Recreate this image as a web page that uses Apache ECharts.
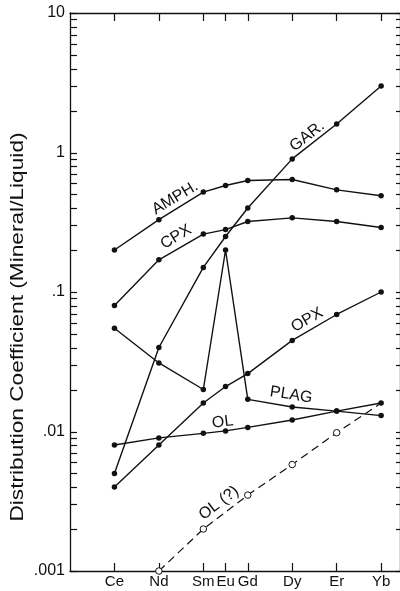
<!DOCTYPE html>
<html>
<head>
<meta charset="utf-8">
<script src="https://cdn.jsdelivr.net/npm/echarts@6/dist/echarts.min.js"></script>
<style>
  html, body { margin: 0; padding: 0; background: #fff; }
  #chart { width: 400px; height: 591px; }
</style>
</head>
<body>
<div id="chart"></div>
<script>
// REE elements, placed along x by atomic number
const elements = ['Ce', 'Nd', 'Sm', 'Eu', 'Gd', 'Dy', 'Er', 'Yb'];
const atomicNumbers = [58, 60, 62, 63, 64, 66, 68, 70];

// Mineral/liquid distribution coefficients
const amph = [0.2, 0.33, 0.52, 0.58, 0.63, 0.64, 0.54, 0.49];
const cpx = [0.08, 0.17, 0.26, 0.28, 0.32, 0.34, 0.32, 0.29];
const gar = [0.005, 0.04, 0.15, 0.25, 0.4, 0.9, 1.6, 3.0];
const opx = [0.004, 0.008, 0.016, 0.021, 0.026, 0.045, 0.069, 0.1];
const plag = [0.055, 0.031, 0.02, 0.2, 0.017, 0.015, 0.014, 0.013];
const ol = [0.008, 0.009, 0.0097, 0.0101, 0.0107, 0.0121, 0.014, 0.016];
const olQ = [null, 0.001, 0.002, null, 0.0035, 0.0058, 0.0098, 0.016];

// Y tick labels
const yTickValues = [10, 1, 0.1, 0.01, 0.001];
const yTickLabels = ['10', '1', '.1', '.01', '.001'];

// Log-cycle tick marks: 1..9 within every decade
const yTickMarks = [];
for (let e = -3; e <= 0; e++) {
  for (let k = 1; k <= 9; k++) yTickMarks.push(+(k * Math.pow(10, e)).toPrecision(3));
}
yTickMarks.push(10);

const X_MIN = 56;
const X_MAX = 70.85;

const FONT = '"Liberation Sans", Arial, Helvetica, sans-serif';
const INK = '#111';

function pairs(vals) {
  return vals.map((v, i) => [atomicNumbers[i], v]);
}

// in-line curve names (anchor in data space + text angle)
const curveLabels = {
  'AMPH.': { at: [60.73, 0.472], rotate: 31 },
  'CPX': { at: [60.77, 0.248], rotate: 31 },
  'GAR.': { at: [66.67, 1.31], rotate: 38 },
  'OPX': { at: [66.67, 0.063], rotate: 30 },
  'PLAG': { at: [65.95, 0.0183], rotate: -9 },
  'OL': { at: [62.87, 0.0117], rotate: 7 },
  'OL (?)': { at: [62.7, 0.00307], rotate: 37 }
};

function nameMark(name) {
  const c = curveLabels[name];
  return {
    symbol: 'circle',
    symbolSize: 0,
    silent: true,
    animation: false,
    data: [{
      coord: c.at,
      label: {
        show: true,
        position: 'inside',
        formatter: name,
        rotate: c.rotate,
        fontFamily: FONT,
        fontSize: 16,
        color: INK
      }
    }]
  };
}

function solidSeries(name, vals) {
  return {
    name: name,
    type: 'line',
    data: pairs(vals),
    symbol: 'circle',
    symbolSize: 5.5,
    showSymbol: true,
    lineStyle: { color: INK, width: 1.4 },
    itemStyle: { color: INK, borderWidth: 0 },
    markPoint: nameMark(name),
    animation: false,
    z: 3
  };
}

const olQData = pairs(olQ).map((p, i) => {
  if (p[1] === null) return [p[0], null];
  if (i === olQ.length - 1) return { value: p, symbol: 'none' };
  return p;
});

const series = [
  solidSeries('AMPH.', amph),
  solidSeries('CPX', cpx),
  solidSeries('GAR.', gar),
  solidSeries('OPX', opx),
  solidSeries('PLAG', plag),
  solidSeries('OL', ol),
  {
    name: 'OL (?)',
    type: 'line',
    data: olQData,
    connectNulls: true,
    symbol: 'circle',
    symbolSize: 6.5,
    lineStyle: { color: INK, width: 1.2, type: [8, 5] },
    itemStyle: { color: '#fff', borderColor: INK, borderWidth: 1 },
    markPoint: nameMark('OL (?)'),
    animation: false,
    z: 2
  }
];

const chart = echarts.init(document.getElementById('chart'), null, { renderer: 'canvas' });

const xCommon = {
  type: 'value',
  min: X_MIN,
  max: X_MAX,
  splitLine: { show: false },
  axisLine: { show: true, onZero: false, lineStyle: { color: INK, width: 1.3 } },
  axisTick: { show: true, inside: true, length: 8, customValues: atomicNumbers, lineStyle: { color: INK, width: 1.2 } }
};

const yLog = {
  type: 'log',
  logBase: 10,
  min: 0.001,
  max: 10,
  splitLine: { show: false },
  axisTick: { show: false },
  axisLine: { show: true, onZero: false, lineStyle: { color: INK, width: 1.3 } }
};

chart.setOption({
  animation: false,
  backgroundColor: '#fff',
  grid: { left: 70, right: 0, top: 13, bottom: 20, containLabel: false },
  xAxis: [
    Object.assign({}, xCommon, {
      position: 'bottom',
      axisLabel: {
        show: true,
        customValues: atomicNumbers,
        formatter: v => elements[atomicNumbers.indexOf(Math.round(v))] || '',
        fontFamily: FONT,
        fontSize: 15,
        color: INK,
        margin: 3
      }
    }),
    Object.assign({}, xCommon, {
      position: 'top',
      axisLabel: { show: false }
    })
  ],
  yAxis: [
    Object.assign({}, yLog, {
      position: 'left',
      axisLabel: {
        show: true,
        formatter: v => {
          const i = yTickValues.findIndex(t => Math.abs(Math.log10(t) - Math.log10(v)) < 1e-6);
          return i >= 0 ? yTickLabels[i] : '';
        },
        fontFamily: FONT,
        fontSize: 16,
        color: INK,
        margin: 5
      }
    }),
    Object.assign({}, yLog, {
      position: 'right',
      axisLabel: { show: false }
    })
  ],
  series: series
});

// Frame decorations placed through the chart's own scales:
// the rotated axis title and the log-cycle ticks on both side frames.
const graphics = [{
  type: 'text',
  id: 'y-title',
  x: 18,
  y: 327,
  rotation: Math.PI / 2,
  scaleX: 1.26,
  style: {
    text: 'Distribution Coefficient (Mineral/Liquid)',
    font: '18px ' + FONT,
    fill: INK,
    align: 'center',
    verticalAlign: 'middle'
  }
}];

const xLeft = chart.convertToPixel({ xAxisIndex: 0 }, X_MIN);
const xRight = chart.convertToPixel({ xAxisIndex: 0 }, X_MAX);
yTickMarks.forEach((v, i) => {
  const y = Math.round(chart.convertToPixel({ yAxisIndex: 0 }, v)) + 0.5;
  graphics.push({
    type: 'line', id: 'tick-l-' + i, z: 100, silent: true,
    shape: { x1: xLeft, y1: y, x2: xLeft + 7, y2: y },
    style: { stroke: INK, lineWidth: 1.2 }
  });
  graphics.push({
    type: 'line', id: 'tick-r-' + i, z: 100, silent: true,
    shape: { x1: xRight - 4, y1: y, x2: xRight, y2: y },
    style: { stroke: INK, lineWidth: 1.2 }
  });
});

chart.setOption({ graphic: graphics });
</script>
</body>
</html>
